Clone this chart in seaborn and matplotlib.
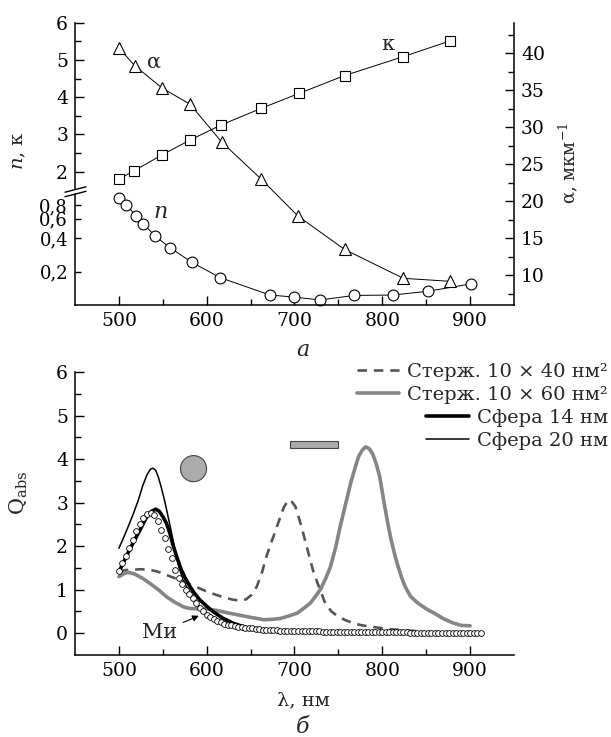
import numpy as np
import matplotlib
matplotlib.use("Agg")
import matplotlib.pyplot as plt
import seaborn as sns
from matplotlib.patches import Ellipse, Rectangle
from matplotlib.lines import Line2D
from matplotlib.ticker import MultipleLocator, FixedLocator, NullLocator, FixedFormatter

# ---------------- data: panel a ----------------
lam_n = [500, 508, 520, 528, 541, 558, 583, 615, 672, 699, 729, 768, 812, 852, 901]
n_val = [0.92, 0.80, 0.635, 0.54, 0.42, 0.33, 0.243, 0.177, 0.123, 0.118, 0.111, 0.122, 0.123, 0.133, 0.155]

lam_k = [500, 517, 549, 581, 616, 662, 705, 757, 824, 877]
k_val = [1.80, 2.02, 2.45, 2.85, 3.25, 3.70, 4.10, 4.58, 5.09, 5.51]

lam_a = [500, 518, 549, 581, 617, 662, 704, 757, 824, 877]
a_val = [40.7, 38.3, 35.3, 33.1, 28.0, 23.0, 18.0, 13.5, 9.6, 9.2]

# ---------------- data: panel b ----------------
lam_s20 = [500, 505, 510, 516, 522, 527, 532, 536, 539, 542, 545, 548, 552, 556, 560, 564,
           568, 573, 580, 588, 597, 607, 618, 630, 645, 660, 680, 700]
q_s20 = [1.95, 2.18, 2.42, 2.72, 3.05, 3.38, 3.64, 3.77, 3.79, 3.74, 3.58, 3.37, 3.05, 2.68, 2.3, 1.9,
         1.55, 1.22, 0.95, 0.69, 0.5, 0.38, 0.26, 0.15, 0.09, 0.06, 0.04, 0.03]

lam_s14 = [500, 508, 516, 524, 531, 537, 542, 546, 550, 554, 558, 562, 566, 571, 576, 581,
           586, 592, 600, 607, 618, 630, 645, 660, 675, 690]
q_s14 = [1.4, 1.75, 2.07, 2.37, 2.65, 2.8, 2.85, 2.8, 2.68, 2.53, 2.3, 2.0, 1.75, 1.46, 1.25, 1.07,
         0.92, 0.77, 0.62, 0.5, 0.35, 0.23, 0.13, 0.08, 0.05, 0.04]

lam_r40 = [500, 508, 516, 525, 535, 545, 554, 563, 573, 582, 592, 601, 611, 620, 630, 638, 645,
           651, 657, 663, 668, 672, 676, 680, 684, 688, 693, 697, 701, 705, 709, 713, 717, 721,
           725, 730, 735, 742, 750, 758, 767, 777, 787, 798, 810, 825, 840]
q_r40 = [1.42, 1.45, 1.46, 1.47, 1.46, 1.41, 1.34, 1.27, 1.19, 1.11, 1.03, 0.95, 0.88, 0.82, 0.77,
         0.75, 0.78, 0.88, 1.07, 1.40, 1.76, 2.0, 2.22, 2.45, 2.68, 2.90, 3.06, 3.02, 2.91, 2.65,
         2.37, 2.05, 1.76, 1.45, 1.22, 0.95, 0.69, 0.50, 0.38, 0.30, 0.23, 0.18, 0.15, 0.12, 0.09,
         0.07, 0.05]

lam_r60 = [500, 505, 510, 518, 527, 535, 545, 554, 563, 573, 580, 590, 600, 612, 626, 646, 665,
           675, 684, 694, 703, 711, 718, 724, 730, 736, 741, 747, 752, 758, 764, 769, 773, 777,
           781, 785, 789, 793, 797, 802, 806, 810, 814, 818, 822, 826, 832, 840, 850, 860, 870,
           880, 890, 900]
q_r60 = [1.30, 1.36, 1.40, 1.36, 1.26, 1.15, 1.00, 0.84, 0.72, 0.61, 0.57, 0.56, 0.56, 0.52, 0.46,
         0.38, 0.31, 0.32, 0.34, 0.40, 0.46, 0.58, 0.69, 0.85, 1.02, 1.28, 1.53, 1.98, 2.45, 2.95,
         3.45, 3.80, 4.06, 4.20, 4.28, 4.24, 4.12, 3.90, 3.60, 3.00, 2.55, 2.15, 1.82, 1.53, 1.28,
         1.07, 0.85, 0.70, 0.56, 0.45, 0.33, 0.24, 0.18, 0.17]

lam_mie = list(range(500, 913, 4))
q_mie = [1.42, 1.62, 1.78, 1.96, 2.15, 2.34, 2.50, 2.64, 2.74, 2.77, 2.72, 2.57, 2.38, 2.18, 1.94,
         1.72, 1.46, 1.26, 1.12, 1.00, 0.90, 0.80, 0.70, 0.58, 0.50, 0.43, 0.37, 0.32, 0.28, 0.25,
         0.22, 0.20, 0.18, 0.16, 0.15, 0.14, 0.13, 0.12, 0.11, 0.10, 0.09, 0.085, 0.08, 0.075,
         0.07, 0.066, 0.062, 0.058, 0.055, 0.052, 0.05,
         0.048, 0.046, 0.045, 0.044, 0.042, 0.041, 0.040, 0.039, 0.038, 0.037, 0.036, 0.035,
         0.034, 0.033, 0.032, 0.031, 0.030, 0.029, 0.028, 0.027, 0.026, 0.025, 0.024, 0.023,
         0.022, 0.021, 0.020, 0.020, 0.019, 0.018, 0.018, 0.017, 0.016, 0.016, 0.015, 0.015,
         0.014, 0.014, 0.013, 0.013, 0.012, 0.012, 0.011, 0.011, 0.010, 0.010, 0.010, 0.009,
         0.009, 0.009, 0.008, 0.008, 0.008]
assert len(lam_mie) == len(q_mie)

legend_labels = ["Стерж. 10 × 40 нм²", "Стерж. 10 × 60 нм²", "Сфера 14 нм", "Сфера 20 нм"]
x_ticks = [500, 600, 700, 800, 900]
n_ticks = [0.2, 0.4, 0.6, 0.8]
n_tick_labels = ["0,2", "0,4", "0,6", "0,8"]

# ---------------- style ----------------
sns.set_theme(style="ticks")
plt.rcParams["font.family"] = ["DejaVu Serif"]
plt.rcParams["mathtext.fontset"] = "dejavuserif"
plt.rcParams["axes.linewidth"] = 1.1
plt.rcParams["axes.edgecolor"] = "black"

W_PX, H_PX = 611, 737
fig = plt.figure(figsize=(W_PX / 100, H_PX / 100), dpi=100)


def fx(px):
    return px / W_PX


def fy(py):
    return 1 - py / H_PX


def rect(l, t, r, b):
    return [fx(l), fy(b), fx(r) - fx(l), fy(t) - fy(b)]


TICK = 13.5
L, R = 75, 514
ax_up = fig.add_axes(rect(L, 22.7, R, 191.7))
ax_lo = fig.add_axes(rect(L, 191.7, R, 305))
ax_al = fig.add_axes(rect(L, 22.7, R, 305))
ax_b = fig.add_axes(rect(L, 372, R, 655))
ax_al.patch.set_visible(False)

for ax in (ax_up, ax_lo, ax_al, ax_b):
    ax.set_xlim(450, 950)
    ax.tick_params(which="both", direction="in", colors="black", labelsize=TICK, width=1.0)
    ax.tick_params(which="major", length=6.5, pad=5)
    ax.tick_params(which="minor", length=4.2)
    ax.set_xlabel("")
    ax.set_ylabel("")

# upper part of n,k axis
ax_up.set_ylim(1.463, 6)
for s in ("top", "right", "bottom"):
    ax_up.spines[s].set_visible(False)
ax_up.yaxis.set_major_locator(FixedLocator([2, 3, 4, 5, 6]))
ax_up.yaxis.set_minor_locator(FixedLocator([2.5, 3.5, 4.5, 5.5]))
ax_up.xaxis.set_major_locator(NullLocator())
ax_up.xaxis.set_minor_locator(NullLocator())
ax_up.set_xticks([])

# lower part (log)
ax_lo.set_yscale("log")
ax_lo.set_ylim(0.1, 1.052)
for s in ("top", "right"):
    ax_lo.spines[s].set_visible(False)
ax_lo.yaxis.set_major_locator(FixedLocator(n_ticks))
ax_lo.yaxis.set_major_formatter(FixedFormatter(n_tick_labels))
ax_lo.yaxis.set_minor_locator(NullLocator())
ax_lo.xaxis.set_major_locator(FixedLocator(x_ticks))
ax_lo.xaxis.set_minor_locator(FixedLocator([550, 650, 750, 850]))
ax_lo.tick_params(axis="y", which="major", length=4.5, labelsize=13)

# alpha axis
ax_al.set_ylim(6, 44.1)
for s in ("top", "left", "bottom"):
    ax_al.spines[s].set_visible(False)
ax_al.yaxis.tick_right()
ax_al.yaxis.set_major_locator(FixedLocator([10, 15, 20, 25, 30, 35, 40]))
ax_al.yaxis.set_minor_locator(FixedLocator([7.5, 12.5, 17.5, 22.5, 27.5, 32.5, 37.5, 42.5]))
ax_al.set_xticks([])
ax_al.xaxis.set_minor_locator(NullLocator())

# panel b axis
ax_b.set_ylim(-0.5, 6)
for s in ("top", "right"):
    ax_b.spines[s].set_visible(False)
ax_b.yaxis.set_major_locator(FixedLocator([0, 1, 2, 3, 4, 5, 6]))
ax_b.yaxis.set_minor_locator(FixedLocator([0.5, 1.5, 2.5, 3.5, 4.5, 5.5]))
ax_b.xaxis.set_major_locator(FixedLocator(x_ticks))
ax_b.xaxis.set_minor_locator(FixedLocator([550, 650, 750, 850]))

# ---------------- panel a plots ----------------
mk = dict(color="black", linewidth=0.7, markerfacecolor="white", markeredgecolor="black",
          markeredgewidth=0.8, clip_on=False)
sns.lineplot(x=lam_k, y=k_val, ax=ax_up, marker="s", markersize=7.2, **mk)
sns.lineplot(x=lam_n, y=n_val, ax=ax_lo, marker="o", markersize=7.8, **mk)
sns.lineplot(x=lam_a, y=a_val, ax=ax_al, marker="^", markersize=9.0, **mk)
for ax in (ax_up, ax_lo, ax_al):
    ax.set_xlabel("")
    ax.set_ylabel("")
    ax.set_xlim(450, 950)

fig.text(fx(154), fy(62), "α", fontsize=15, ha="center", va="center")
fig.text(fx(388), fy(45), "κ", fontsize=15, ha="center", va="center")
fig.text(fx(160), fy(212), "$n$", fontsize=16, ha="center", va="center")
fig.text(fx(19), fy(151), "$n$, κ", fontsize=14, rotation=90, ha="center", va="center")
fig.text(fx(568), fy(163), "α, мкм$^{-1}$", fontsize=13, rotation=90, ha="center", va="center")
fig.text(fx(303), fy(350), "а", fontsize=16, fontstyle="italic", ha="center", va="center")

# axis break marks
fig.add_artist(Line2D([fx(70), fx(81)], [fy(192.5), fy(189.8)], transform=fig.transFigure,
                      color="white", lw=3.0))
for dy in (0, 4.5):
    fig.add_artist(Line2D([fx(65), fx(86)], [fy(192.2 + dy), fy(186.8 + dy)],
                          transform=fig.transFigure, color="black", lw=1.0))

# ---------------- panel b plots ----------------
sns.lineplot(x=lam_r40, y=q_r40, ax=ax_b, color="#555555", linewidth=1.9, dashes=False,
             linestyle=(0, (3.6, 2.6)), zorder=2)
h40 = ax_b.lines[-1]
sns.lineplot(x=lam_r60, y=q_r60, ax=ax_b, color="#858585", linewidth=2.6, zorder=2)
h60 = ax_b.lines[-1]
sns.lineplot(x=lam_s14, y=q_s14, ax=ax_b, color="black", linewidth=2.6, zorder=2)
h14 = ax_b.lines[-1]
sns.lineplot(x=lam_s20, y=q_s20, ax=ax_b, color="black", linewidth=1.1, zorder=2.5)
h20 = ax_b.lines[-1]
sns.scatterplot(x=lam_mie, y=q_mie, ax=ax_b, s=17, facecolor="white", edgecolor="black",
                linewidth=0.6, zorder=3, clip_on=False)
ax_b.set_xlabel("")
ax_b.set_ylabel("")
ax_b.set_xlim(450, 950)
ax_b.set_ylim(-0.5, 6)

# icons
ax_b.add_patch(Ellipse((585, 3.78), width=29.7, height=0.6, facecolor="#ababab",
                       edgecolor="#444444", lw=0.8, zorder=3))
ax_b.add_patch(Rectangle((694.5, 4.25), 55, 0.16, facecolor="#ababab",
                         edgecolor="#444444", lw=0.8, zorder=3))

ax_b.annotate("Ми", xy=(591, 0.40), xytext=(546.5, 0.02), fontsize=15, ha="center", va="center",
              arrowprops=dict(arrowstyle="-|>", color="black", lw=0.8, shrinkA=2, shrinkB=0,
                              mutation_scale=9))

leg = ax_b.legend([h40, h60, h14, h20], legend_labels, loc="upper right",
                  bbox_to_anchor=(fx(608), fy(363)), bbox_transform=fig.transFigure,
                  frameon=False, fontsize=14, handlelength=2.2, handletextpad=0.4,
                  labelspacing=0.25, borderpad=0, borderaxespad=0)
leg._legend_handle_box.get_children()[0].align = "right"

fig.text(fx(19), fy(493), "Q$_{\\rm abs}$", fontsize=15, rotation=90, ha="center", va="center")
fig.text(fx(303), fy(700), "λ, нм", fontsize=14, ha="center", va="center")
fig.text(fx(303), fy(727), "б", fontsize=16, fontstyle="italic", ha="center", va="center")

fig.savefig("out.png", dpi=100)
